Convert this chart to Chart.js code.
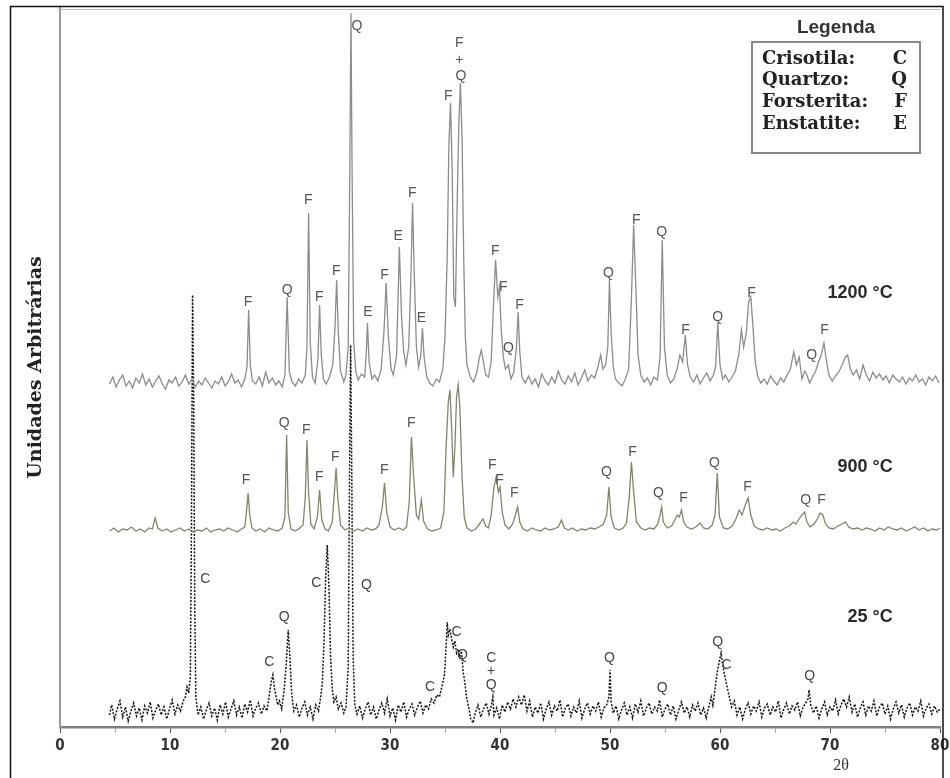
<!DOCTYPE html>
<html lang="pt-BR">
<head>
<meta charset="utf-8">
<title>DRX - crisotila tratada termicamente</title>
<script src="https://cdn.jsdelivr.net/npm/chart.js@4.4.1/dist/chart.umd.min.js"></script>
<style>
  html, body { margin: 0; padding: 0; background: #fff; }
</style>
</head>
<body>
<canvas id="grafico" width="950" height="778"></canvas>
<script>
// Difratogramas: [2θ, intensidade (unidades arbitrárias, já com deslocamento vertical)]
const amostra1200 = [
  [4.5,343],[4.8,350],[5.1,340],[5.4,347],[5.7,352],[6.0,341],[6.3,346],[6.6,339],[6.9,349],[7.2,344],
  [7.5,353],[7.8,342],[8.1,348],[8.4,340],[8.7,346],[9.0,351],[9.3,343],[9.6,338],[9.9,347],[10.2,344],
  [10.5,350],[10.8,341],[11.1,345],[11.4,352],[11.7,343],[12.0,348],[12.3,340],[12.6,346],[12.9,342],[13.2,349],
  [13.5,344],[13.8,339],[14.1,346],[14.4,343],[14.7,350],[15.0,341],[15.3,345],[15.6,353],[15.9,344],[16.2,347],
  [16.5,340],[16.8,348],[17.0,360],[17.15,417],[17.3,362],[17.5,346],[17.8,343],[18.1,350],[18.4,341],[18.7,355],
  [19.0,344],[19.3,349],[19.6,342],[19.9,346],[20.2,340],[20.45,352],[20.65,430],[20.85,355],[21.1,345],[21.4,341],
  [21.7,348],[22.0,344],[22.3,352],[22.45,380],[22.6,514],[22.75,385],[22.95,350],[23.2,344],[23.45,368],[23.6,422],
  [23.75,372],[23.95,348],[24.2,343],[24.5,350],[24.8,362],[25.0,400],[25.15,447],[25.3,395],[25.5,356],[25.8,345],
  [26.0,352],[26.2,380],[26.35,560],[26.45,714],[26.55,560],[26.7,385],[26.9,355],[27.1,347],[27.4,353],[27.7,350],
  [27.85,375],[27.95,404],[28.1,365],[28.35,348],[28.6,352],[28.9,346],[29.2,358],[29.45,395],[29.65,444],[29.85,390],
  [30.1,358],[30.3,352],[30.6,372],[30.85,480],[31.05,410],[31.25,375],[31.45,362],[31.7,380],[31.9,450],[32.05,524],
  [32.2,455],[32.4,380],[32.6,360],[32.8,372],[32.95,399],[33.1,370],[33.35,350],[33.6,344],[33.9,341],[34.2,348],
  [34.5,345],[34.8,358],[35.0,390],[35.2,470],[35.35,580],[35.5,624],[35.65,560],[35.8,430],[35.95,420],[36.1,520],
  [36.25,600],[36.4,644],[36.55,590],[36.7,470],[36.85,390],[37.0,362],[37.3,350],[37.6,345],[37.9,355],[38.1,368],
  [38.3,377],[38.5,365],[38.7,352],[38.95,350],[39.2,365],[39.4,420],[39.6,467],[39.8,430],[39.95,440],[40.1,400],
  [40.3,370],[40.5,358],[40.75,362],[41.0,348],[41.25,355],[41.5,380],[41.65,415],[41.8,375],[42.0,350],[42.3,344],
  [42.6,351],[42.9,343],[43.2,348],[43.5,340],[43.8,353],[44.1,346],[44.4,342],[44.7,350],[45.0,344],[45.3,356],
  [45.6,347],[45.9,343],[46.2,351],[46.5,345],[46.8,354],[47.1,342],[47.4,349],[47.7,357],[48.0,346],[48.3,352],
  [48.6,349],[48.9,360],[49.15,372],[49.35,358],[49.6,362],[49.8,380],[49.95,447],[50.1,395],[50.3,360],[50.5,348],
  [50.8,344],[51.1,341],[51.4,348],[51.7,358],[51.95,430],[52.15,502],[52.35,440],[52.55,372],[52.8,352],[53.1,345],
  [53.4,349],[53.7,342],[54.0,350],[54.3,347],[54.55,370],[54.75,487],[54.95,380],[55.2,352],[55.5,344],[55.8,348],
  [56.1,358],[56.35,372],[56.6,365],[56.85,392],[57.05,362],[57.3,350],[57.6,345],[57.9,352],[58.2,343],[58.5,349],
  [58.8,354],[59.1,346],[59.4,352],[59.6,360],[59.8,404],[60.0,362],[60.25,348],[60.5,352],[60.8,345],[61.1,350],
  [61.4,356],[61.7,372],[61.95,397],[62.15,380],[62.4,395],[62.6,425],[62.8,430],[63.0,400],[63.2,365],[63.45,350],
  [63.7,344],[64.0,348],[64.3,343],[64.6,351],[64.9,346],[65.2,342],[65.5,349],[65.8,345],[66.1,352],[66.4,358],
  [66.7,375],[66.95,362],[67.2,370],[67.45,348],[67.7,356],[67.9,352],[68.15,344],[68.4,350],[68.7,356],[68.95,365],
  [69.2,372],[69.45,384],[69.65,368],[69.9,352],[70.2,346],[70.5,351],[70.8,355],[71.1,362],[71.4,370],[71.6,372],
  [71.85,358],[72.1,352],[72.4,357],[72.7,348],[73.0,362],[73.3,352],[73.6,346],[73.9,355],[74.2,349],[74.5,353],
  [74.8,347],[75.1,351],[75.4,344],[75.7,352],[76.0,348],[76.3,345],[76.6,350],[76.9,343],[77.2,349],[77.5,346],
  [77.8,352],[78.1,345],[78.4,348],[78.7,342],[79.0,350],[79.3,346],[79.6,351],[79.9,344]
];

const amostra900 = [
  [4.5,196],[4.9,199],[5.3,195],[5.7,198],[6.1,197],[6.5,200],[6.9,196],[7.3,198],[7.7,195],[8.1,199],
  [8.4,198],[8.65,209],[8.9,199],[9.3,196],[9.7,198],[10.1,195],[10.5,197],[10.9,199],[11.3,196],[11.7,198],
  [12.1,195],[12.5,197],[12.9,196],[13.3,199],[13.7,195],[14.1,197],[14.5,198],[14.9,196],[15.3,199],[15.7,197],
  [16.1,195],[16.5,198],[16.8,200],[16.95,215],[17.1,234],[17.25,212],[17.45,199],[17.8,196],[18.2,198],[18.6,195],
  [19.0,199],[19.4,197],[19.8,196],[20.2,199],[20.45,210],[20.6,292],[20.75,215],[21.0,198],[21.4,196],[21.8,199],
  [22.1,202],[22.3,230],[22.45,287],[22.6,235],[22.8,203],[23.1,198],[23.4,210],[23.6,237],[23.8,207],[24.1,198],
  [24.4,196],[24.75,205],[24.95,235],[25.1,259],[25.25,230],[25.5,202],[25.9,197],[26.3,199],[26.7,196],[27.1,198],
  [27.5,196],[27.9,199],[28.3,197],[28.7,198],[29.0,202],[29.3,220],[29.5,244],[29.7,215],[30.0,200],[30.4,197],
  [30.8,199],[31.2,197],[31.5,200],[31.75,225],[31.95,290],[32.15,250],[32.4,212],[32.6,208],[32.85,227],[33.05,206],
  [33.4,198],[33.8,196],[34.2,197],[34.6,199],[34.9,215],[35.1,280],[35.3,325],[35.45,337],[35.6,300],[35.75,250],
  [35.9,280],[36.05,330],[36.2,342],[36.35,320],[36.55,250],[36.75,210],[37.0,199],[37.4,196],[37.8,198],[38.2,204],
  [38.45,208],[38.7,201],[38.95,199],[39.2,212],[39.45,240],[39.65,250],[39.85,235],[40.0,240],[40.2,215],[40.45,202],
  [40.8,198],[41.15,203],[41.4,212],[41.6,220],[41.8,205],[42.1,198],[42.5,196],[42.9,199],[43.3,197],[43.7,196],
  [44.1,199],[44.5,197],[44.9,198],[45.3,200],[45.6,207],[45.85,199],[46.2,197],[46.6,199],[47.0,196],[47.4,198],
  [47.8,197],[48.2,199],[48.6,198],[49.0,200],[49.4,203],[49.7,212],[49.9,240],[50.1,210],[50.4,199],[50.8,197],
  [51.2,199],[51.5,204],[51.75,230],[51.95,265],[52.15,235],[52.4,205],[52.8,199],[53.2,197],[53.6,199],[54.0,198],
  [54.35,203],[54.55,212],[54.7,220],[54.85,205],[55.2,199],[55.6,201],[55.85,206],[56.1,212],[56.3,210],[56.5,217],
  [56.7,205],[57.0,200],[57.4,198],[57.8,200],[58.2,204],[58.5,199],[58.9,198],[59.3,202],[59.55,212],[59.75,254],
  [59.95,210],[60.3,199],[60.7,198],[61.1,201],[61.45,208],[61.75,217],[62.0,212],[62.3,222],[62.55,229],[62.8,212],
  [63.1,201],[63.5,198],[63.9,197],[64.3,199],[64.7,197],[65.1,198],[65.5,196],[65.9,199],[66.3,201],[66.65,205],
  [66.9,203],[67.2,208],[67.45,212],[67.7,215],[67.9,205],[68.2,200],[68.55,203],[68.85,208],[69.1,214],[69.35,212],
  [69.6,203],[69.9,199],[70.3,198],[70.7,201],[71.1,203],[71.4,205],[71.7,200],[72.1,198],[72.5,199],[72.9,197],
  [73.3,199],[73.7,198],[74.1,196],[74.5,199],[74.9,197],[75.3,200],[75.7,198],[76.1,197],[76.5,199],[76.9,196],
  [77.3,198],[77.7,200],[78.1,197],[78.5,199],[78.9,196],[79.3,198],[79.7,197],[80.0,199]
];

const amostra25 = [
  [4.5,12],[4.7,22],[4.95,8],[5.2,18],[5.45,26],[5.7,10],[5.95,20],[6.2,6],[6.45,16],[6.7,24],
  [6.95,11],[7.2,19],[7.45,7],[7.7,21],[7.95,14],[8.2,25],[8.45,9],[8.7,17],[8.95,23],[9.2,12],
  [9.45,20],[9.7,8],[9.95,18],[10.2,27],[10.45,13],[10.7,22],[10.95,16],[11.2,26],[11.4,30],[11.55,40],
  [11.7,34],[11.85,50],[11.95,200],[12.05,432],[12.15,330],[12.25,120],[12.35,30],[12.55,12],[12.8,20],[13.05,8],
  [13.3,17],[13.55,24],[13.8,11],[14.05,19],[14.3,7],[14.55,22],[14.8,13],[15.05,25],[15.3,10],[15.55,18],
  [15.8,26],[16.05,12],[16.3,20],[16.55,9],[16.8,23],[17.05,15],[17.3,27],[17.55,11],[17.8,19],[18.05,24],
  [18.3,13],[18.55,21],[18.8,16],[19.0,30],[19.2,45],[19.35,52],[19.5,38],[19.65,30],[19.8,22],[19.95,26],
  [20.15,18],[20.35,35],[20.55,60],[20.75,97],[20.9,70],[21.05,35],[21.25,16],[21.5,22],[21.75,10],[22.0,19],
  [22.25,25],[22.5,12],[22.75,20],[23.0,8],[23.25,22],[23.5,16],[23.7,30],[23.85,45],[24.0,85],[24.15,150],
  [24.3,182],[24.45,140],[24.6,70],[24.75,38],[24.9,25],[25.1,30],[25.3,18],[25.55,24],[25.8,14],[26.0,20],
  [26.2,60],[26.32,250],[26.42,382],[26.52,260],[26.65,70],[26.8,22],[27.0,13],[27.25,21],[27.5,9],[27.75,18],
  [28.0,25],[28.25,12],[28.5,20],[28.75,8],[29.0,17],[29.25,24],[29.5,14],[29.75,28],[30.0,11],[30.25,19],
  [30.5,7],[30.75,22],[31.0,15],[31.25,25],[31.5,10],[31.75,18],[32.0,23],[32.25,12],[32.5,20],[32.75,26],
  [33.0,14],[33.25,22],[33.5,18],[33.75,28],[34.0,24],[34.25,32],[34.5,30],[34.75,42],[34.95,52],[35.1,80],
  [35.2,105],[35.3,92],[35.45,98],[35.6,88],[35.75,80],[35.9,86],[36.05,74],[36.2,78],[36.35,70],[36.5,76],
  [36.65,55],[36.8,45],[36.95,30],[37.15,20],[37.35,8],[37.55,4],[37.75,14],[38.0,22],[38.25,10],[38.5,18],
  [38.75,24],[39.0,13],[39.2,21],[39.35,30],[39.45,12],[39.7,19],[39.95,8],[40.2,22],[40.45,15],[40.7,25],
  [40.95,18],[41.2,28],[41.45,20],[41.7,30],[41.95,22],[42.2,32],[42.45,16],[42.7,26],[42.95,10],[43.2,20],
  [43.45,14],[43.7,24],[43.95,8],[44.2,18],[44.45,25],[44.7,12],[44.95,21],[45.2,16],[45.45,27],[45.7,10],
  [45.95,19],[46.2,23],[46.45,11],[46.7,20],[46.95,14],[47.2,26],[47.45,9],[47.7,18],[47.95,24],[48.2,13],
  [48.45,21],[48.7,16],[48.95,25],[49.2,10],[49.45,19],[49.7,22],[49.9,30],[50.0,57],[50.1,26],[50.3,14],
  [50.55,21],[50.8,8],[51.05,17],[51.3,24],[51.55,12],[51.8,20],[52.05,9],[52.3,23],[52.55,15],[52.8,26],
  [53.05,11],[53.3,19],[53.55,24],[53.8,13],[54.05,20],[54.3,16],[54.5,27],[54.75,10],[55.0,18],[55.25,23],
  [55.5,12],[55.75,21],[56.0,8],[56.25,17],[56.5,25],[56.75,14],[57.0,20],[57.25,10],[57.5,22],[57.75,16],
  [58.0,24],[58.25,12],[58.5,19],[58.75,9],[59.0,21],[59.2,30],[59.35,22],[59.55,38],[59.75,55],[59.95,66],
  [60.1,74],[60.25,62],[60.45,50],[60.65,40],[60.85,30],[61.05,20],[61.3,26],[61.55,12],[61.8,20],[62.05,8],
  [62.3,18],[62.55,24],[62.8,13],[63.05,21],[63.3,16],[63.55,25],[63.8,10],[64.05,19],[64.3,23],[64.55,12],
  [64.8,20],[65.05,15],[65.3,26],[65.55,9],[65.8,18],[66.05,24],[66.3,13],[66.55,21],[66.8,17],[67.05,25],
  [67.3,11],[67.55,20],[67.8,24],[68.0,28],[68.1,37],[68.25,22],[68.5,14],[68.75,21],[69.0,9],[69.25,18],
  [69.5,25],[69.75,12],[70.0,20],[70.25,16],[70.5,27],[70.75,13],[71.0,22],[71.25,28],[71.5,20],[71.75,30],
  [72.0,15],[72.25,23],[72.5,10],[72.75,19],[73.0,25],[73.25,12],[73.5,21],[73.75,16],[74.0,26],[74.25,11],
  [74.5,20],[74.75,24],[75.0,13],[75.25,21],[75.5,8],[75.75,18],[76.0,25],[76.25,14],[76.5,22],[76.75,10],
  [77.0,19],[77.25,24],[77.5,12],[77.75,20],[78.0,16],[78.25,26],[78.5,11],[78.75,19],[79.0,23],[79.25,13],
  [79.5,21],[79.75,15],[80.0,18]
];

// Identificação das fases: [letra, 2θ, intensidade]
const rotulos1200 = [
  ['F',17.1,425],['Q',20.65,437],['F',22.57,527],['F',23.57,430],['F',25.11,456],
  ['Q',27.0,701],['E',28.0,415],['F',29.5,452],['E',30.75,491],['F',32.03,534],
  ['E',32.85,409],['F',35.3,631],['F',36.3,684],['+',36.3,667],['Q',36.45,651],
  ['F',39.58,476],['F',40.3,440],['Q',40.76,379],['F',41.77,422],['Q',49.86,454],
  ['F',52.4,507],['Q',54.69,495],['F',56.87,397],['Q',59.78,410],['F',62.87,434],
  ['Q',68.33,372],['F',69.5,397]
];
const rotulos900 = [
  ['F',16.92,247],['Q',20.38,304],['F',22.38,297],['F',23.57,250],['F',25.02,270],
  ['F',29.48,257],['F',31.94,304],['F',39.3,262],['F',39.95,247],['F',41.3,234],
  ['Q',49.68,255],['F',52.05,275],['Q',54.41,234],['F',56.69,229],['Q',59.5,264],
  ['F',62.5,240],['Q',67.79,227],['F',69.24,227]
];
const rotulos25 = [
  ['C',13.2,148],['C',19.02,65],['Q',20.38,110],['C',23.3,144],['Q',27.85,142],
  ['C',33.65,40],['C',36.05,95],['Q',36.58,72],['C',39.2,69],['+',39.2,56],['Q',39.2,42],
  ['Q',49.95,69],['Q',54.75,39],['Q',59.78,85],['C',60.6,62],['Q',68.15,51]
];

// Temperaturas: [texto, 2θ (borda direita), intensidade]
const temperaturas = [['1200 °C',75.7,434],['900 °C',75.7,260],['25 °C',75.7,110]];

const legendaFases = [['Crisotila:','C'],['Quartzo:','Q'],['Forsterita:','F'],['Enstatite:','E']];

const xTicks = [0,10,20,30,40,50,60,70,80];
const xTicksMenores = [5,15,25,35,45,55,65,75];

const paraPontos = arr => arr.map(([x, y]) => ({x, y}));

const anotacoes = {
  id: 'anotacoes',
  beforeDraw(chart) {
    const ctx = chart.ctx;
    ctx.save();
    ctx.fillStyle = '#fff';
    ctx.fillRect(0, 0, chart.width, chart.height);
    ctx.restore();
  },
  afterDatasetsDraw(chart) {
    const {ctx, scales: {x, y}} = chart;
    ctx.save();
    ctx.textAlign = 'center';
    ctx.textBaseline = 'middle';
    ctx.font = '14px "Liberation Sans", Arial, sans-serif';
    ctx.fillStyle = '#555';
    [...rotulos1200, ...rotulos900].forEach(([t, a, b]) => {
      ctx.fillText(t, x.getPixelForValue(a), y.getPixelForValue(b));
    });
    ctx.fillStyle = '#444';
    rotulos25.forEach(([t, a, b]) => {
      ctx.fillText(t, x.getPixelForValue(a), y.getPixelForValue(b));
    });

    ctx.font = 'bold 18px "Liberation Sans", Arial, sans-serif';
    ctx.fillStyle = '#2a2a2a';
    ctx.textAlign = 'right';
    temperaturas.forEach(([t, a, b]) => {
      ctx.fillText(t, x.getPixelForValue(a), y.getPixelForValue(b));
    });
    ctx.restore();
  },
  afterDraw(chart) {
    const {ctx, chartArea: ca} = chart;
    ctx.save();

    // moldura da área do gráfico (topo)
    ctx.strokeStyle = '#bbb';
    ctx.lineWidth = 1;
    ctx.beginPath();
    ctx.moveTo(ca.left, ca.top + 1.5);
    ctx.lineTo(ca.right, ca.top + 1.5);
    ctx.stroke();

    // moldura externa
    ctx.strokeStyle = '#111';
    ctx.lineWidth = 1.5;
    ctx.beginPath();
    ctx.moveTo(10.5, chart.height + 5);
    ctx.lineTo(10.5, 6.5);
    ctx.lineTo(943, 6.5);
    ctx.lineTo(943, chart.height + 5);
    ctx.stroke();

    // legenda
    ctx.fillStyle = '#333';
    ctx.textAlign = 'center';
    ctx.textBaseline = 'middle';
    ctx.font = 'bold 19px "Liberation Sans", Arial, sans-serif';
    ctx.fillText('Legenda', 836, 28);
    ctx.strokeStyle = '#888';
    ctx.lineWidth = 2;
    ctx.strokeRect(752, 42, 168, 111);
    ctx.font = 'bold 18px "DejaVu Serif", serif';
    ctx.fillStyle = '#222';
    legendaFases.forEach(([nome, letra], i) => {
      const yy = 59 + i * 21.7;
      ctx.textAlign = 'left';
      ctx.fillText(nome, 762, yy);
      ctx.textAlign = 'right';
      ctx.fillText(letra, 907, yy);
    });

    // eixo x: 2θ
    ctx.textAlign = 'center';
    ctx.font = '16px "Liberation Serif", serif';
    ctx.fillStyle = '#333';
    ctx.fillText('2θ', chart.scales.x.getPixelForValue(71), ca.bottom + 39);
    ctx.restore();
  }
};

const ctx = document.getElementById('grafico').getContext('2d');
new Chart(ctx, {
  type: 'line',
  data: {
    datasets: [
      {
        label: '1200 °C',
        data: paraPontos(amostra1200),
        borderColor: '#8c8c8c',
        borderWidth: 1.3
      },
      {
        label: '900 °C',
        data: paraPontos(amostra900),
        borderColor: '#80866c',
        borderWidth: 1.3
      },
      {
        label: '25 °C',
        data: paraPontos(amostra25),
        borderColor: '#151515',
        borderWidth: 1.5,
        borderDash: [2, 1.5]
      }
    ]
  },
  options: {
    responsive: false,
    animation: false,
    elements: {
      point: { radius: 0 },
      line: { tension: 0 }
    },
    layout: { padding: { top: 8, right: 10, left: 0, bottom: 0 } },
    plugins: {
      legend: { display: false },
      tooltip: { enabled: false }
    },
    scales: {
      x: {
        type: 'linear',
        min: 0,
        max: 80,
        afterFit: s => { s.height = 51; s.paddingLeft = 0; s.paddingRight = 0; },
        afterBuildTicks: s => {
          s.ticks = [...xTicks, ...xTicksMenores].sort((a, b) => a - b).map(v => ({value: v}));
        },
        ticks: {
          autoSkip: false,
          maxRotation: 0,
          padding: 4,
          color: '#333',
          font: { family: '"Liberation Sans Narrow", "DejaVu Sans Condensed", "Liberation Sans", sans-serif', size: 15, weight: 'bold' },
          callback: v => xTicks.includes(v) ? v : ''
        },
        grid: {
          drawOnChartArea: false,
          tickLength: 6,
          tickColor: c => (c.tick && c.tick.value % 10 === 0) ? '#555' : '#aaa'
        },
        border: { color: '#808080', width: 2.5 }
      },
      y: {
        min: 0,
        max: 719,
        afterFit: s => { s.width = 60; },
        ticks: { display: false },
        grid: { display: false },
        border: { color: '#999', width: 2 },
        title: {
          display: true,
          text: 'Unidades Arbitrárias',
          color: '#222',
          font: { family: '"DejaVu Serif", serif', size: 19, weight: 'bold' },
          padding: { top: 25, bottom: 0 }
        }
      }
    }
  },
  plugins: [anotacoes]
});
</script>
</body>
</html>
